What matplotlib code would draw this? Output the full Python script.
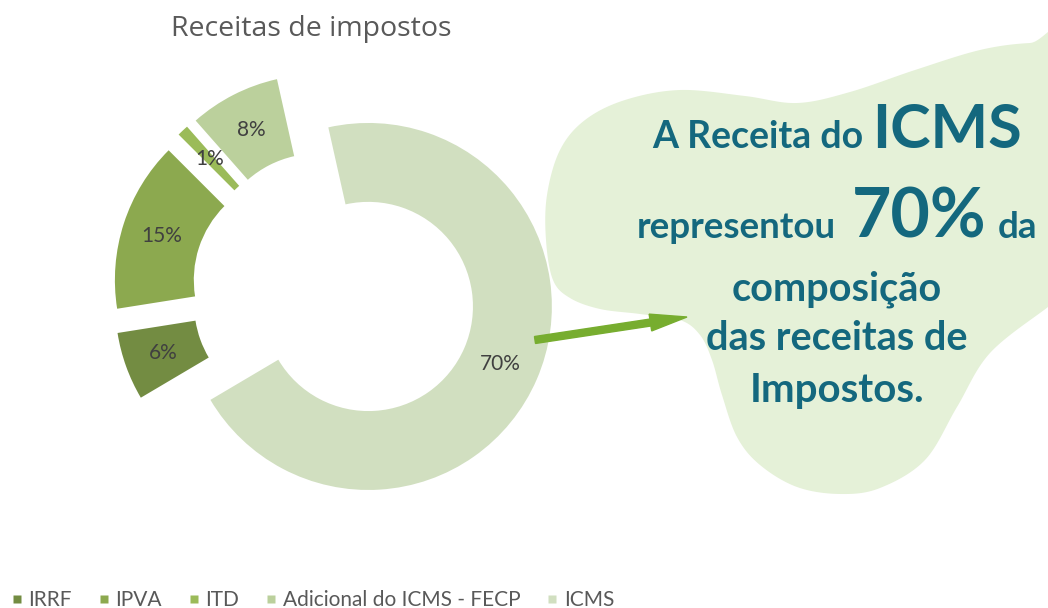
import numpy as np
import matplotlib
matplotlib.use('Agg')
import matplotlib.pyplot as plt
from matplotlib.lines import Line2D
from matplotlib.patches import Polygon, FancyArrow

categories = ['IRRF', 'IPVA', 'ITD', 'Adicional do ICMS - FECP', 'ICMS']
values = [6, 15, 1, 8, 70]
colors = ['#738C42', '#8CA94F', '#9BBB59', '#BBD09C', '#D1DFC0']

title = 'Receitas de impostos'
teal = '#14687E'

W, H = 1048, 608
R = 183.5            # pie radius in pixels
CX, CY = 334, 291.6  # pie centre in pixels (from top-left)


def px(x, y):
    return ((x - CX) / R, (CY - y) / R)


def smooth_closed(pts, n=24):
    P = np.array(pts, dtype=float)
    N = len(P)
    t = np.linspace(0, 1, n, endpoint=False)[:, None]
    out = []
    for i in range(N):
        p0, p1, p2, p3 = P[i - 1], P[i], P[(i + 1) % N], P[(i + 2) % N]
        out.append(0.5 * (2 * p1 + (-p0 + p2) * t + (2 * p0 - 5 * p1 + 4 * p2 - p3) * t ** 2
                          + (-p0 + 3 * p1 - 3 * p2 + p3) * t ** 3))
    return np.vstack(out)


fig = plt.figure(figsize=(W / 100, H / 100), dpi=100)
ax = fig.add_axes([0, 0, 1, 1])
ax.set_xlim(-CX / R, (W - CX) / R)
ax.set_ylim(-(H - CY) / R, CY / R)
ax.axis('off')

# cloud shape behind the text
blob_px = [(553, 280), (546, 240), (547, 195), (560, 150), (585, 120), (625, 100),
           (680, 90), (745, 96), (797, 103), (850, 92), (915, 70), (980, 50),
           (1030, 43), (1070, 45), (1070, 290), (1048, 307), (990, 353), (957, 407),
           (925, 460), (880, 488), (840, 494), (797, 487), (760, 465), (737, 437),
           (722, 395), (712, 360), (700, 335), (680, 320), (640, 314), (600, 309),
           (570, 298)]
curve = smooth_closed(blob_px)
blob = Polygon([px(x, y) for x, y in curve], closed=True, facecolor='#E5F1D8',
               edgecolor='none', zorder=0)
ax.add_patch(blob)

wedges, texts, autotexts = ax.pie(
    values, colors=colors, startangle=210.6, counterclock=False,
    explode=[0.204] * len(values), radius=1.0, autopct='%1.0f%%', pctdistance=0.785,
    wedgeprops=dict(width=0.43, edgecolor='none'),
    textprops=dict(color='#404040', fontsize=15, family='Lato'))
for w in wedges:
    w.set_zorder(1)
ax.set_xlim(-CX / R, (W - CX) / R)
ax.set_ylim(-(H - CY) / R, CY / R)

# arrow
x0, y0 = px(535, 340)
x1, y1 = px(687, 317)
ax.add_patch(FancyArrow(x0, y0, x1 - x0, y1 - y0, width=7 / R, head_width=17 / R,
                        head_length=37 / R, length_includes_head=True,
                        color='#77AD2F', zorder=3))

fig.text(311 / W, 1 - 29 / H, title, ha='center', va='center', fontsize=20.5,
         color='#595959', family='Open Sans')

# callout text
fig.canvas.draw()
renderer = fig.canvas.get_renderer()


def text_line(pieces, baseline, cx=837):
    objs = []
    total = 0
    for s, size, gap in pieces:
        t = ax.text(0, 0, s, fontsize=size, fontweight='bold', color=teal,
                    family='Lato', ha='left', va='baseline', zorder=4)
        wpx = t.get_window_extent(renderer).width
        objs.append((t, wpx, gap))
        total += wpx + gap
    x = cx - total / 2
    for t, wpx, gap in objs:
        t.set_position(px(x, baseline))
        x += wpx + gap


text_line([('A Receita do', 27, 9), ('ICMS', 44, 0)], 148)
text_line([('representou', 26.5, 16), ('70%', 49, 12), ('da', 26.5, 0)], 238)
text_line([('composição', 28.5, 0)], 300)
text_line([('das receitas de', 28.5, 0)], 350)
text_line([('Impostos.', 29, 0)], 402)

handles = [Line2D([], [], marker='s', linestyle='none', markersize=5.5,
                  markerfacecolor=c, markeredgecolor='none') for c in colors]
fig.legend(handles, categories, loc='center left', bbox_to_anchor=(11.6 / W, 8 / H),
           ncol=5, frameon=False, handlelength=0.5, handletextpad=0.29,
           columnspacing=1.3, borderpad=0, borderaxespad=0,
           prop=dict(family='Lato', size=15), labelcolor='#595959')

fig.savefig('out.png', dpi=100)
